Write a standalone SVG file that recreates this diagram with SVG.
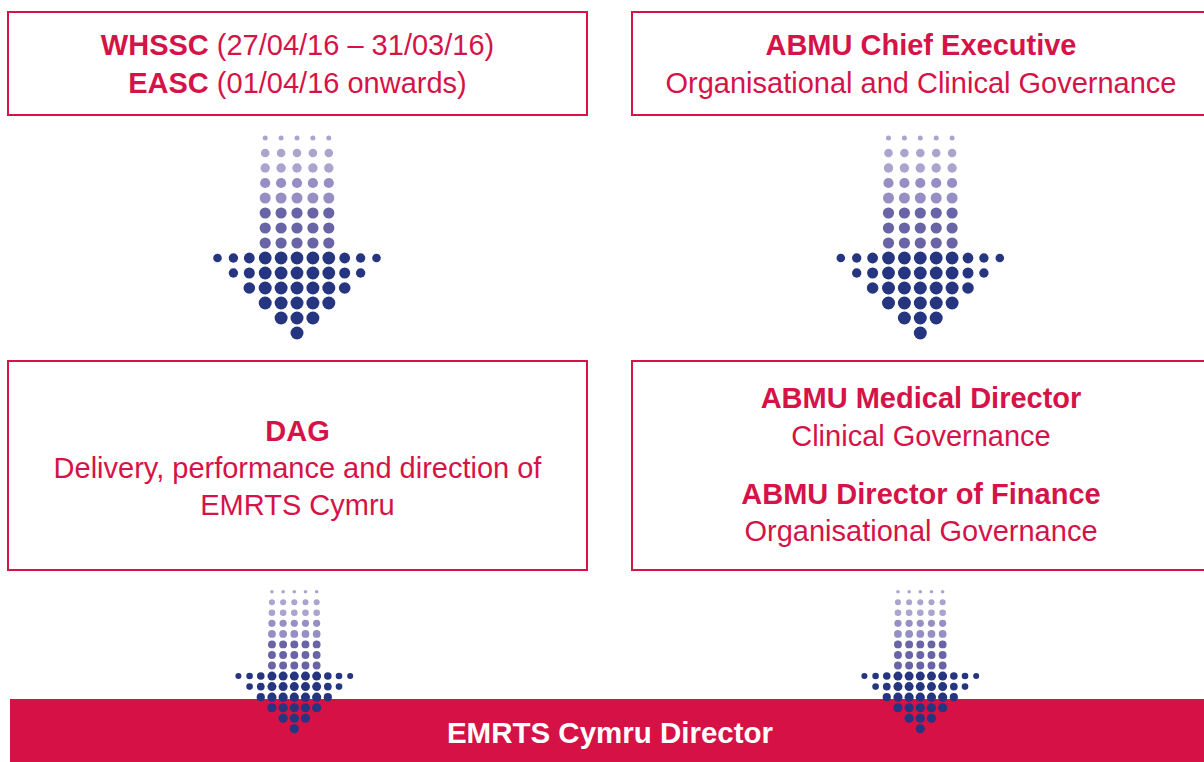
<svg xmlns="http://www.w3.org/2000/svg" xmlns:xlink="http://www.w3.org/1999/xlink" width="1204" height="762" viewBox="0 0 1204 762">
<style>
.box{fill:#fff;stroke:#d51348;stroke-width:2}
.t{font-family:"Liberation Sans",Arial,Helvetica,sans-serif;font-size:29px;fill:#d51348;text-anchor:middle}
.b{font-weight:bold}
.c1{fill:#aaa5cf}.c2{fill:#958fc3}.c3{fill:#6964a6}.c4{fill:#263580}
</style>
<defs>
<g id="arrow">
<g class="c1">
<circle cx="-31.8" cy="0" r="2.5"/><circle cx="-15.9" cy="0" r="2.5"/><circle cx="0" cy="0" r="2.5"/><circle cx="15.9" cy="0" r="2.5"/><circle cx="31.8" cy="0" r="2.5"/>
<circle cx="-31.8" cy="15" r="4.3"/><circle cx="-15.9" cy="15" r="4.3"/><circle cx="0" cy="15" r="4.3"/><circle cx="15.9" cy="15" r="4.3"/><circle cx="31.8" cy="15" r="4.3"/>
<circle cx="-31.8" cy="30" r="4.7"/><circle cx="-15.9" cy="30" r="4.7"/><circle cx="0" cy="30" r="4.7"/><circle cx="15.9" cy="30" r="4.7"/><circle cx="31.8" cy="30" r="4.7"/>
</g>
<g class="c2">
<circle cx="-31.8" cy="45" r="5.1"/><circle cx="-15.9" cy="45" r="5.1"/><circle cx="0" cy="45" r="5.1"/><circle cx="15.9" cy="45" r="5.1"/><circle cx="31.8" cy="45" r="5.1"/>
<circle cx="-31.8" cy="60" r="5.5"/><circle cx="-15.9" cy="60" r="5.5"/><circle cx="0" cy="60" r="5.5"/><circle cx="15.9" cy="60" r="5.5"/><circle cx="31.8" cy="60" r="5.5"/>
</g>
<g class="c3">
<circle cx="-31.8" cy="75" r="5.6"/><circle cx="-15.9" cy="75" r="5.6"/><circle cx="0" cy="75" r="5.6"/><circle cx="15.9" cy="75" r="5.6"/><circle cx="31.8" cy="75" r="5.6"/>
<circle cx="-31.8" cy="90" r="5.6"/><circle cx="-15.9" cy="90" r="5.6"/><circle cx="0" cy="90" r="5.6"/><circle cx="15.9" cy="90" r="5.6"/><circle cx="31.8" cy="90" r="5.6"/>
<circle cx="-31.8" cy="105" r="5.6"/><circle cx="-15.9" cy="105" r="5.6"/><circle cx="0" cy="105" r="5.6"/><circle cx="15.9" cy="105" r="5.6"/><circle cx="31.8" cy="105" r="5.6"/>
</g>
<g class="c4">
<circle cx="-79.5" cy="120" r="4.3"/><circle cx="-63.6" cy="120" r="4.7"/><circle cx="-47.7" cy="120" r="5.4"/><circle cx="-31.8" cy="120" r="6.4"/><circle cx="-15.9" cy="120" r="6.4"/><circle cx="0" cy="120" r="6.4"/><circle cx="15.9" cy="120" r="6.4"/><circle cx="31.8" cy="120" r="6.4"/><circle cx="47.7" cy="120" r="5.4"/><circle cx="63.6" cy="120" r="4.7"/><circle cx="79.5" cy="120" r="4.3"/>
<circle cx="-63.6" cy="135" r="4.7"/><circle cx="-47.7" cy="135" r="5.5"/><circle cx="-31.8" cy="135" r="6.4"/><circle cx="-15.9" cy="135" r="6.4"/><circle cx="0" cy="135" r="6.4"/><circle cx="15.9" cy="135" r="6.4"/><circle cx="31.8" cy="135" r="6.4"/><circle cx="47.7" cy="135" r="5.5"/><circle cx="63.6" cy="135" r="4.7"/>
<circle cx="-47.7" cy="150" r="5.8"/><circle cx="-31.8" cy="150" r="6.5"/><circle cx="-15.9" cy="150" r="6.5"/><circle cx="0" cy="150" r="6.5"/><circle cx="15.9" cy="150" r="6.5"/><circle cx="31.8" cy="150" r="6.5"/><circle cx="47.7" cy="150" r="5.8"/>
<circle cx="-31.8" cy="165" r="6.5"/><circle cx="-15.9" cy="165" r="6.5"/><circle cx="0" cy="165" r="6.5"/><circle cx="15.9" cy="165" r="6.5"/><circle cx="31.8" cy="165" r="6.5"/>
<circle cx="-15.9" cy="180" r="6.5"/><circle cx="0" cy="180" r="6.5"/><circle cx="15.9" cy="180" r="6.5"/>
<circle cx="0" cy="195" r="6.5"/>
</g>
</g>
</defs>

<g id="node-whssc">
<rect class="box" x="8" y="12" width="579" height="103"/>
<text class="t" x="297.5" y="55"><tspan class="b">WHSSC</tspan> (27/04/16 – 31/03/16)</text>
<text class="t" x="297.5" y="93"><tspan class="b">EASC</tspan> (01/04/16 onwards)</text>
</g>

<g id="node-ceo">
<rect class="box" x="632" y="12" width="580" height="103"/>
<text class="t b" x="921" y="55">ABMU Chief Executive</text>
<text class="t" x="921" y="93">Organisational and Clinical Governance</text>
</g>

<g id="node-dag">
<rect class="box" x="8" y="361" width="579" height="209"/>
<text class="t b" x="297.5" y="441">DAG</text>
<text class="t" x="297.5" y="478">Delivery, performance and direction of</text>
<text class="t" x="297.5" y="515">EMRTS Cymru</text>
</g>

<g id="node-abmu">
<rect class="box" x="632" y="361" width="580" height="209"/>
<text class="t b" x="921" y="408">ABMU Medical Director</text>
<text class="t" x="921" y="446">Clinical Governance</text>
<text class="t b" x="921" y="504">ABMU Director of Finance</text>
<text class="t" x="921" y="541">Organisational Governance</text>
</g>

<g id="node-director">
<rect x="10" y="699" width="1200" height="70" fill="#d51145"/>
<text class="t b" x="610" y="743" style="fill:#fff;font-size:29.5px">EMRTS Cymru Director</text>
</g>

<g id="connectors">
<use xlink:href="#arrow" href="#arrow" transform="translate(297,138)"/>
<use xlink:href="#arrow" href="#arrow" transform="translate(920.3,138)"/>
<use xlink:href="#arrow" href="#arrow" transform="translate(294.3,591.7) scale(0.703)"/>
<use xlink:href="#arrow" href="#arrow" transform="translate(920.3,591.7) scale(0.703)"/>
</g>
</svg>
